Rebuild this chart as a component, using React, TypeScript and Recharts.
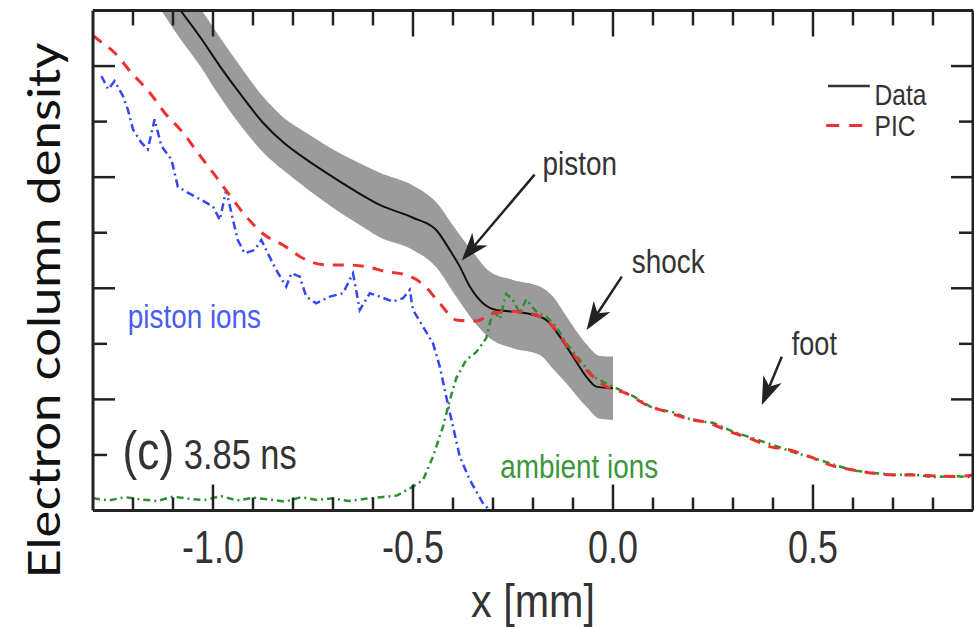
import {
  ComposedChart,
  Line,
  Area,
  XAxis,
  YAxis,
  ReferenceLine,
  ReferenceDot,
  Label,
} from 'recharts'

// positions in mm, densities in arbitrary units (0-9 full scale)
const dataX = [-1.15, -1.083, -1.03, -0.983, -0.93, -0.875, -0.82, -0.767, -0.7, -0.642, -0.583, -0.5, -0.442, -0.408, -0.383, -0.358, -0.325, -0.292, -0.25, -0.2, -0.167, -0.133, -0.1, -0.067, -0.042, 0.0]
const dataY = [9.7, 9.02, 8.5, 8.0, 7.48, 6.98, 6.6, 6.32, 6.0, 5.74, 5.5, 5.27, 5.05, 4.69, 4.39, 4.03, 3.73, 3.61, 3.58, 3.52, 3.43, 3.13, 2.77, 2.41, 2.23, 2.2]

// measurement uncertainty band around the data
const bandX = [-1.16, -1.129, -1.083, -1.03, -0.983, -0.93, -0.875, -0.82, -0.767, -0.7, -0.642, -0.583, -0.5, -0.442, -0.392, -0.35, -0.308, -0.25, -0.183, -0.15, -0.117, -0.067, -0.033, 0.0]
const bandHigh = [10.4, 10.0, 9.55, 9.02, 8.52, 7.98, 7.45, 7.05, 6.8, 6.5, 6.28, 6.08, 5.85, 5.55, 5.05, 4.65, 4.3, 4.15, 4.03, 3.85, 3.5, 3.0, 2.78, 2.77]
const bandLow = [9.35, 9.0, 8.5, 7.98, 7.45, 6.92, 6.45, 6.1, 5.8, 5.45, 5.18, 4.92, 4.69, 4.38, 3.85, 3.42, 3.1, 2.92, 2.8, 2.55, 2.29, 1.87, 1.65, 1.63]

// PIC total electron density
const picX = [-1.3, -1.288, -1.246, -1.204, -1.158, -1.121, -1.075, -1.038, -1.0, -0.963, -0.917, -0.871, -0.825, -0.775, -0.717, -0.667, -0.617, -0.567, -0.517, -0.475, -0.433, -0.392, -0.342, -0.3, -0.25, -0.192, -0.15, -0.108, -0.067, -0.017, 0.033, 0.083, 0.133, 0.183, 0.242, 0.292, 0.342, 0.392, 0.442, 0.492, 0.542, 0.6, 0.65, 0.708, 0.75, 0.808, 0.858, 0.9]
const picY = [8.55, 8.48, 8.24, 7.88, 7.52, 7.16, 6.8, 6.44, 6.08, 5.72, 5.29, 4.96, 4.78, 4.54, 4.42, 4.42, 4.39, 4.3, 4.24, 4.07, 3.73, 3.43, 3.41, 3.55, 3.58, 3.52, 3.31, 2.89, 2.53, 2.23, 2.11, 1.9, 1.78, 1.66, 1.57, 1.42, 1.3, 1.15, 1.09, 0.97, 0.82, 0.73, 0.67, 0.64, 0.64, 0.62, 0.61, 0.64]

// PIC piston ion contribution
const pistonX = [-1.279, -1.262, -1.246, -1.225, -1.213, -1.2, -1.179, -1.163, -1.146, -1.129, -1.104, -1.088, -1.063, -1.029, -1.0, -0.983, -0.967, -0.95, -0.938, -0.921, -0.896, -0.879, -0.863, -0.842, -0.817, -0.804, -0.783, -0.767, -0.742, -0.708, -0.675, -0.65, -0.633, -0.608, -0.583, -0.55, -0.525, -0.508, -0.5, -0.475, -0.45, -0.433, -0.417, -0.4, -0.383, -0.358, -0.325, -0.308]
const pistonY = [7.82, 7.58, 7.73, 7.46, 7.22, 6.86, 6.62, 6.5, 7.04, 6.56, 6.32, 5.83, 5.72, 5.59, 5.47, 5.23, 5.77, 5.23, 4.87, 4.63, 4.69, 4.87, 4.63, 4.33, 4.03, 4.27, 4.21, 3.85, 3.73, 3.85, 3.91, 4.27, 3.61, 3.91, 3.85, 3.76, 3.82, 3.97, 3.61, 3.31, 3.01, 2.59, 2.05, 1.51, 0.97, 0.55, 0.13, 0.0]

// PIC ambient ion contribution
const ambientX = [-1.3, -1.26, -1.22, -1.18, -1.14, -1.1, -1.06, -1.02, -0.98, -0.94, -0.9, -0.86, -0.82, -0.78, -0.74, -0.7, -0.66, -0.62, -0.58, -0.54, -0.5, -0.475, -0.45, -0.425, -0.408, -0.392, -0.367, -0.342, -0.317, -0.3, -0.283, -0.267, -0.25, -0.233, -0.217, -0.192, -0.167, -0.142, -0.117, -0.083, -0.05, -0.017, 0.017, 0.05, 0.1, 0.15, 0.2, 0.25, 0.3, 0.35, 0.4, 0.45, 0.5, 0.55, 0.6, 0.65, 0.7, 0.75, 0.8, 0.85, 0.9]
const ambientY = [0.22, 0.18, 0.24, 0.2, 0.17, 0.25, 0.21, 0.19, 0.26, 0.18, 0.23, 0.2, 0.16, 0.24, 0.19, 0.22, 0.17, 0.21, 0.24, 0.27, 0.43, 0.55, 0.97, 1.51, 1.99, 2.38, 2.71, 2.85, 3.1, 3.61, 3.45, 3.9, 3.79, 3.55, 3.8, 3.58, 3.49, 3.31, 3.01, 2.71, 2.41, 2.29, 2.17, 2.06, 1.84, 1.77, 1.62, 1.58, 1.42, 1.3, 1.18, 1.05, 0.95, 0.83, 0.72, 0.68, 0.64, 0.65, 0.6, 0.62, 0.6]

const xDomain = [-1.3, 0.9]
const yDomain = [0, 9]
const xTicks = [-1.2, -1.1, -1.0, -0.9, -0.8, -0.7, -0.6, -0.5, -0.4, -0.3, -0.2, -0.1, 0.0, 0.1, 0.2, 0.3, 0.4, 0.5, 0.6, 0.7, 0.8]
const yTicks = [1, 2, 3, 4, 5, 6, 7, 8]

// text annotations placed in data coordinates
const notes = [
  { text: 'piston', x: -0.176, y: 6.045, size: 34, color: '#333' },
  { text: 'shock', x: 0.047, y: 4.28, size: 34, color: '#333' },
  { text: 'foot', x: 0.447, y: 2.8, size: 33, color: '#333' },
  { text: 'piston ions', x: -1.213, y: 3.29, size: 34, color: '#4a5cf2' },
  { text: 'ambient ions', x: -0.282, y: 0.58, size: 34, color: '#3c963c' },
  { text: 'Data', x: 0.654, y: 7.3, size: 30, color: '#333' },
  { text: 'PIC', x: 0.654, y: 6.75, size: 30, color: '#333' },
]

// arrows: tail -> head
const arrows = [
  { x1: -0.196, y1: 6.045, x2: -0.378, y2: 4.5 },
  { x1: 0.022, y1: 4.21, x2: -0.066, y2: 3.25 },
  { x1: 0.422, y1: 2.77, x2: 0.372, y2: 1.9 },
]

const COLORS = {
  data: '#111111',
  band: '#9b9b9b',
  pic: '#ee3030',
  piston: '#3447f2',
  ambient: '#2f8f2f',
  axis: '#222222',
}

const FONT = "'Liberation Sans', Arial, Helvetica, sans-serif"
const SQUEEZE = 0.82

const toPoints = (xs: number[], ys: number[]) => xs.map((x, i) => ({ x, y: ys[i] }))
const dataPts = toPoints(dataX, dataY)
const bandPts = bandX.map((x, i) => ({ x, y: [bandLow[i], bandHigh[i]] }))
const picPts = toPoints(picX, picY)
const pistonPts = toPoints(pistonX, pistonY)
const ambientPts = toPoints(ambientX, ambientY)

const isMajor = (v: number) => Math.abs(v * 2 - Math.round(v * 2)) < 1e-6

const BottomTick = (p: any) => {
  const v = p.payload.value
  const major = isMajor(v)
  return (
    <g>
      <line x1={p.x} x2={p.x} y1={p.y} y2={p.y - (major ? 26 : 13)} stroke={COLORS.axis} strokeWidth={2.5} />
      {major && (
        <text
          transform={`translate(${p.x},${p.y + 52}) scale(0.78,1)`}
          textAnchor="middle"
          fontFamily={FONT}
          fontSize={46}
          fill="#333"
        >
          {v.toFixed(1)}
        </text>
      )}
    </g>
  )
}

const TopTick = (p: any) => {
  const major = isMajor(p.payload.value)
  return <line x1={p.x} x2={p.x} y1={p.y} y2={p.y + (major ? 26 : 15)} stroke={COLORS.axis} strokeWidth={2.5} />
}

const LeftTick = (p: any) => {
  const long = p.payload.value % 2 === 0
  return <line x1={p.x} x2={p.x + (long ? 22 : 14)} y1={p.y} y2={p.y} stroke={COLORS.axis} strokeWidth={2.5} />
}

const RightTick = (p: any) => {
  const long = p.payload.value % 2 === 0
  return <line x1={p.x} x2={p.x - (long ? 22 : 14)} y1={p.y} y2={p.y} stroke={COLORS.axis} strokeWidth={2.5} />
}

const YTitle = (props: any) => {
  const vb = props.viewBox || { x: 0, y: 10.5, width: 93, height: 500 }
  const cx = vb.x + 60
  const cy = vb.y + vb.height / 2 + 50
  return (
    <text
      transform={`translate(${cx},${cy}) rotate(-90)`}
      textAnchor="middle"
      fontFamily="Lato, 'Open Sans', sans-serif"
      fontSize={44}
      textLength={536}
      lengthAdjust="spacingAndGlyphs"
      fill="#111"
    >
      Electron column density
    </text>
  )
}

const XTitle = (props: any) => {
  const vb = props.viewBox || { x: 93, y: 510.5, width: 880, height: 116.5 }
  return (
    <text
      x={vb.x + vb.width / 2}
      y={vb.y + 106}
      textAnchor="middle"
      fontFamily={FONT}
      fontSize={46}
      textLength={124}
      lengthAdjust="spacingAndGlyphs"
      fill="#333"
    >
      x [mm]
    </text>
  )
}

const noteShape = (n: (typeof notes)[number]) => (p: any) => (
  <text
    transform={`translate(${p.cx},${p.cy}) scale(${SQUEEZE},1)`}
    fontFamily={FONT}
    fontSize={n.size}
    fill={n.color}
  >
    {n.text}
  </text>
)

const panelShape = (p: any) => (
  <text transform={`translate(${p.cx},${p.cy}) scale(${SQUEEZE},1)`} fontFamily={FONT} fill="#333">
    <tspan fontSize={54}>(c)</tspan>
    <tspan fontSize={42}> 3.85 ns</tspan>
  </text>
)

const arrowShape = (p: any) => {
  const { x1, y1, x2, y2 } = p
  const dx = x2 - x1
  const dy = y2 - y1
  const len = Math.hypot(dx, dy) || 1
  const ux = dx / len
  const uy = dy / len
  const nx = -uy
  const ny = ux
  const L = 28
  const W = 10
  const N = 8
  const bx = x2 - ux * L
  const by = y2 - uy * L
  const mx = x2 - ux * (L - N)
  const my = y2 - uy * (L - N)
  const pts = [
    [x2, y2],
    [bx + nx * W, by + ny * W],
    [mx, my],
    [bx - nx * W, by - ny * W],
  ]
  return (
    <g>
      <line x1={x1} y1={y1} x2={mx} y2={my} stroke={COLORS.axis} strokeWidth={2.5} />
      <polygon points={pts.map((q) => q.join(',')).join(' ')} fill={COLORS.axis} />
    </g>
  )
}

export default function App() {
  return (
    <div style={{ position: 'absolute', left: 0, top: 0, width: 974, height: 627, background: '#fff' }}>
      <ComposedChart width={974} height={627} margin={{ top: 9.5, right: 0, bottom: 0, left: 0 }}>
        <XAxis
          xAxisId="b"
          dataKey="x"
          type="number"
          domain={xDomain}
          allowDataOverflow
          ticks={xTicks}
          interval={0}
          height={116.5}
          tickSize={0}
          tickMargin={0}
          tickLine={false}
          axisLine={{ stroke: COLORS.axis, strokeWidth: 3 }}
          tick={(p: any) => <BottomTick {...p} />}
        >
          <Label content={XTitle} />
        </XAxis>
        <XAxis
          xAxisId="t"
          orientation="top"
          dataKey="x"
          type="number"
          domain={xDomain}
          allowDataOverflow
          ticks={xTicks}
          interval={0}
          height={1}
          tickSize={0}
          tickMargin={0}
          tickLine={false}
          axisLine={{ stroke: COLORS.axis, strokeWidth: 3 }}
          tick={(p: any) => <TopTick {...p} />}
        />
        <YAxis
          yAxisId="l"
          type="number"
          domain={yDomain}
          allowDataOverflow
          ticks={yTicks}
          interval={0}
          width={93}
          tickSize={0}
          tickMargin={0}
          tickLine={false}
          axisLine={{ stroke: COLORS.axis, strokeWidth: 3 }}
          tick={(p: any) => <LeftTick {...p} />}
        >
          <Label content={YTitle} />
        </YAxis>
        <YAxis
          yAxisId="r"
          orientation="right"
          type="number"
          domain={yDomain}
          allowDataOverflow
          ticks={yTicks}
          interval={0}
          width={1}
          tickSize={0}
          tickMargin={0}
          tickLine={false}
          axisLine={{ stroke: COLORS.axis, strokeWidth: 3 }}
          tick={(p: any) => <RightTick {...p} />}
        />

        <Area
          xAxisId="b"
          yAxisId="l"
          data={bandPts}
          dataKey="y"
          type="monotone"
          stroke="none"
          fill={COLORS.band}
          fillOpacity={1}
          isAnimationActive={false}
        />
        <Line
          xAxisId="b"
          yAxisId="l"
          data={dataPts}
          dataKey="y"
          name="Data"
          type="monotone"
          stroke={COLORS.data}
          strokeWidth={2}
          dot={false}
          isAnimationActive={false}
        />
        <Line
          xAxisId="b"
          yAxisId="l"
          data={pistonPts}
          dataKey="y"
          name="piston ions"
          type="linear"
          stroke={COLORS.piston}
          strokeWidth={2.5}
          strokeDasharray="8 4 2 4"
          dot={false}
          isAnimationActive={false}
        />
        <Line
          xAxisId="b"
          yAxisId="l"
          data={ambientPts}
          dataKey="y"
          name="ambient ions"
          type="linear"
          stroke={COLORS.ambient}
          strokeWidth={2.5}
          strokeDasharray="7 4 2 4"
          dot={false}
          isAnimationActive={false}
        />
        <Line
          xAxisId="b"
          yAxisId="l"
          data={picPts}
          dataKey="y"
          name="PIC"
          type="monotone"
          stroke={COLORS.pic}
          strokeWidth={3}
          strokeDasharray="11 9"
          dot={false}
          isAnimationActive={false}
        />

        {/* legend swatches */}
        <ReferenceLine
          xAxisId="b"
          yAxisId="l"
          segment={[{ x: 0.5375, y: 7.64 }, { x: 0.642, y: 7.64 }]}
          stroke="#333"
          strokeWidth={2.5}
          ifOverflow="visible"
        />
        <ReferenceLine
          xAxisId="b"
          yAxisId="l"
          segment={[{ x: 0.533, y: 6.93 }, { x: 0.625, y: 6.93 }]}
          stroke={COLORS.pic}
          strokeWidth={3}
          strokeDasharray="13 10"
          ifOverflow="visible"
        />

        {arrows.map((a, i) => (
          <ReferenceLine
            key={`arrow-${i}`}
            xAxisId="b"
            yAxisId="l"
            segment={[{ x: a.x1, y: a.y1 }, { x: a.x2, y: a.y2 }]}
            shape={arrowShape}
            ifOverflow="visible"
          />
        ))}
        {notes.map((n) => (
          <ReferenceDot
            key={n.text}
            xAxisId="b"
            yAxisId="l"
            x={n.x}
            y={n.y}
            r={0}
            shape={noteShape(n)}
            ifOverflow="visible"
          />
        ))}
        <ReferenceDot xAxisId="b" yAxisId="l" x={-1.226} y={0.75} r={0} shape={panelShape} ifOverflow="visible" />
      </ComposedChart>
    </div>
  )
}
